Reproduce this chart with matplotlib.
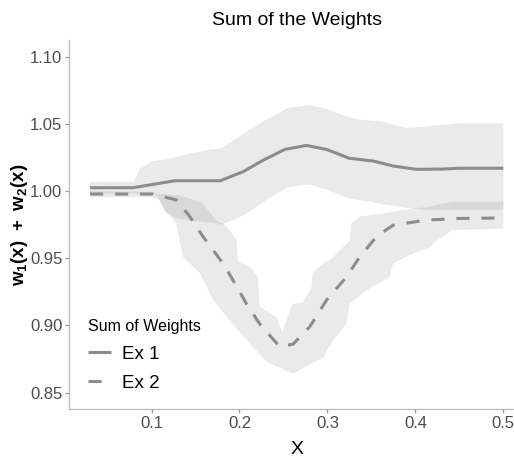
import numpy as np
import matplotlib
matplotlib.use("Agg")
import matplotlib.pyplot as plt

plt.rcParams['font.family'] = ['Liberation Sans', 'DejaVu Sans']
plt.rcParams['mathtext.fontset'] = 'custom'
plt.rcParams['mathtext.rm'] = 'Liberation Sans:bold'

# Ex 1 : mean curve
ex1_x = [0.030, 0.079, 0.1265, 0.178, 0.204, 0.227, 0.2515, 0.276, 0.299, 0.325,
         0.352, 0.3745, 0.401, 0.431, 0.450, 0.500]
ex1_y = [1.0025, 1.0025, 1.0077, 1.0077, 1.0144, 1.023, 1.031, 1.034, 1.031, 1.0244,
         1.0224, 1.0187, 1.0162, 1.0164, 1.017, 1.017]

# Ex 1 : band
ex1_hi_x = [0.030, 0.080, 0.087, 0.100, 0.127, 0.145, 0.160, 0.180, 0.205, 0.230,
            0.255, 0.280, 0.300, 0.325, 0.340, 0.360, 0.390, 0.410, 0.450, 0.500]
ex1_hi_y = [1.007, 1.007, 1.017, 1.022, 1.025, 1.028, 1.030, 1.032, 1.043, 1.053,
            1.062, 1.064, 1.061, 1.055, 1.053, 1.052, 1.047, 1.048, 1.0505, 1.0505]
ex1_lo_x = [0.030, 0.100, 0.107, 0.115, 0.127, 0.145, 0.160, 0.180, 0.205, 0.230,
            0.255, 0.280, 0.300, 0.325, 0.340, 0.360, 0.390, 0.410, 0.450, 0.500]
ex1_lo_y = [0.998, 0.998, 0.996, 0.985, 0.980, 0.978, 0.977, 0.975, 0.982, 0.993,
            1.003, 1.005, 1.0007, 0.9945, 0.993, 0.9905, 0.9875, 0.986, 0.986, 0.986]

# Ex 2 : mean curve
ex2_x = [0.030, 0.1018, 0.1284, 0.1435, 0.1586, 0.1814, 0.1927, 0.208, 0.2231, 0.2459,
         0.2609, 0.2799, 0.2989, 0.3216, 0.3367, 0.3557, 0.3745, 0.4125, 0.4503, 0.4995]
ex2_y = [0.9978, 0.9978, 0.9933, 0.981, 0.966, 0.946, 0.9336, 0.916, 0.901, 0.884,
         0.886, 0.899, 0.9187, 0.936, 0.951, 0.966, 0.9746, 0.9784, 0.9796, 0.980]

# Ex 2 : band
ex2_hi_x = [0.030, 0.1016, 0.107, 0.132, 0.158, 0.174, 0.181, 0.189, 0.197, 0.198,
            0.212, 0.221, 0.223, 0.242, 0.249, 0.257, 0.2606, 0.272, 0.282, 0.283,
            0.295, 0.3026, 0.314, 0.3253, 0.327, 0.3367, 0.359, 0.397, 0.4125, 0.442, 0.500]
ex2_hi_y = [1.000, 0.9995, 0.998, 0.997, 0.991, 0.978, 0.976, 0.971, 0.963, 0.948,
            0.9435, 0.936, 0.914, 0.906, 0.895, 0.911, 0.916, 0.917, 0.9286, 0.939,
            0.946, 0.9485, 0.956, 0.963, 0.976, 0.981, 0.983, 0.987, 0.988, 0.992, 0.992]
ex2_lo_x = [0.030, 0.1016, 0.1095, 0.115, 0.128, 0.132, 0.1356, 0.155, 0.170, 0.192,
            0.2117, 0.2307, 0.2606, 0.2951, 0.3064, 0.3215, 0.3253, 0.3443, 0.3708,
            0.3745, 0.3973, 0.4163, 0.4239, 0.4424, 0.500]
ex2_lo_y = [0.9955, 0.9955, 0.993, 0.986, 0.976, 0.963, 0.951, 0.939, 0.919, 0.901,
            0.8866, 0.873, 0.864, 0.876, 0.889, 0.901, 0.916, 0.926, 0.936,
            0.946, 0.9535, 0.958, 0.963, 0.971, 0.972]

x_ticks = [0.1, 0.2, 0.3, 0.4, 0.5]
y_ticks = [0.85, 0.90, 0.95, 1.00, 1.05, 1.10]
labels = ['Ex 1', 'Ex 2']

line_col = '#8c8c8c'
band_col = '#7f7f7f'

fig = plt.figure(figsize=(5.14, 4.58), dpi=100)
ax = fig.add_axes([69.3 / 514, 48.7 / 458, 454.7 / 514, 369.3 / 458])

for hx, hy, lx, ly in [(ex1_hi_x, ex1_hi_y, ex1_lo_x, ex1_lo_y),
                       (ex2_hi_x, ex2_hi_y, ex2_lo_x, ex2_lo_y)]:
    px = np.concatenate([hx, lx[::-1]])
    py = np.concatenate([hy, ly[::-1]])
    ax.fill(px, py, color=band_col, alpha=0.16, lw=0)

ax.plot(ex1_x, ex1_y, color=line_col, lw=2.2, label=labels[0], solid_capstyle='butt')
ax.plot(ex2_x, ex2_y, color=line_col, lw=2.2, label=labels[1], dashes=(4.3, 3.9))

ax.set_xlim(0.0065, 0.5235)
ax.set_ylim(0.8375, 1.1125)
ax.set_xticks(x_ticks)
ax.set_xticklabels([f'{v:.1f}' for v in x_ticks])
ax.set_yticks(y_ticks)
ax.set_yticklabels([f'{v:.2f}' for v in y_ticks])

for s in ['top', 'right']:
    ax.spines[s].set_visible(False)
for s in ['left', 'bottom']:
    ax.spines[s].set_color('#b8b8b8')
    ax.spines[s].set_linewidth(0.9)
ax.tick_params(colors='#9a9a9a', length=3, width=0.9, labelsize=12, labelcolor='#4d4d4d', pad=2)

ax.set_title('Sum of the Weights', fontsize=14, pad=11)
ax.set_xlabel('X', fontsize=14, labelpad=7)
fig.text(20 / 514, 1 - 225 / 458, r'$\mathrm{w_1(x)\ +\ w_2(x)}$', fontsize=13.5,
         rotation=90, ha='center', va='center')

leg = ax.legend(loc='upper left', bbox_to_anchor=(75 / 514, 1 - 306 / 458),
                bbox_transform=fig.transFigure, frameon=False, title='Sum of Weights',
                fontsize=13.5, title_fontsize=11.5, handlelength=1.2, handletextpad=0.6,
                labelspacing=0.62, borderpad=0.2)
leg._legend_box.align = 'left'

fig.savefig('out.png', dpi=100)
